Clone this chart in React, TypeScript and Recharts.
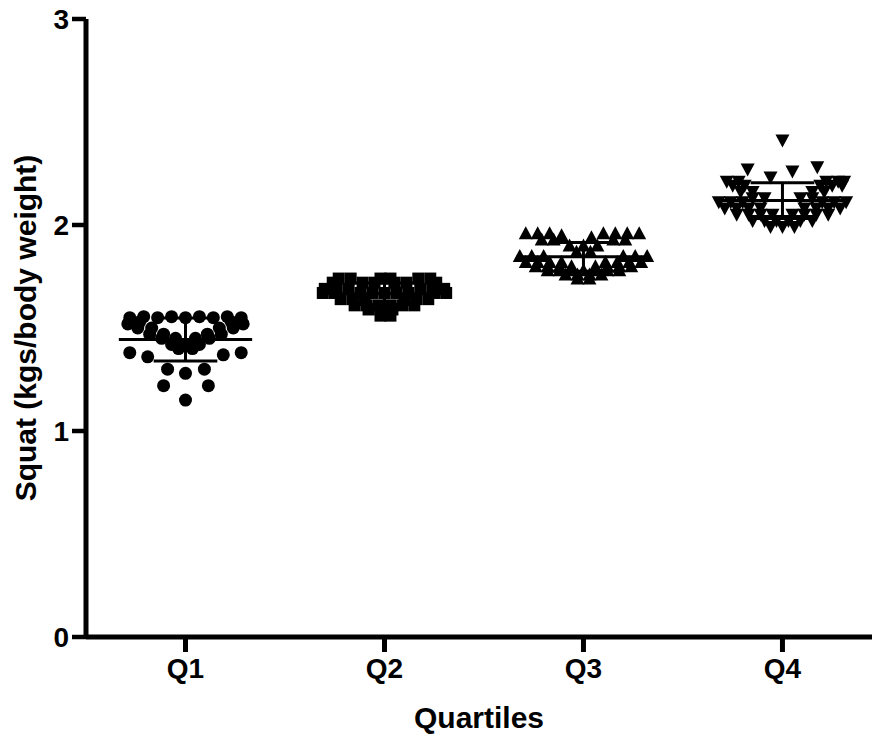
import { ScatterChart, Scatter, XAxis, YAxis, ReferenceLine, Label } from "recharts"

const quartiles = ["Q1", "Q2", "Q3", "Q4"]
const yTicks = [0, 1, 2, 3]

// each point: [horizontal offset inside its column, squat / body weight]
const q1: [number, number][] = [
  [-0.28, 1.55], [-0.21, 1.555], [-0.14, 1.55], [-0.07, 1.555], [0, 1.55], [0.07, 1.555], [0.14, 1.55], [0.21, 1.555], [0.28, 1.55],
  [-0.29, 1.52], [-0.23, 1.53], [0.23, 1.53], [0.29, 1.52],
  [-0.24, 1.50], [-0.17, 1.50], [0.17, 1.50], [0.24, 1.50],
  [-0.18, 1.47], [-0.11, 1.47], [0.11, 1.47], [0.18, 1.47],
  [-0.12, 1.45], [-0.05, 1.45], [0.05, 1.45], [0.12, 1.45],
  [-0.07, 1.42], [0, 1.42], [0.07, 1.42],
  [-0.035, 1.40], [0.035, 1.40],
  [-0.28, 1.38], [-0.19, 1.36], [0.19, 1.37], [0.28, 1.38],
  [-0.09, 1.30], [0, 1.28], [0.095, 1.30],
  [-0.11, 1.22], [0.115, 1.22],
  [0, 1.15],
]

const q2: [number, number][] = [
  [-0.23, 1.74], [-0.17, 1.74], [-0.02, 1.74], [0.03, 1.74], [0.17, 1.74], [0.23, 1.74],
  [-0.26, 1.72], [-0.11, 1.72], [-0.05, 1.72], [0.05, 1.72], [0.11, 1.72], [0.26, 1.72],
  [-0.3, 1.69], [-0.24, 1.69], [-0.18, 1.69], [0.18, 1.69], [0.24, 1.69], [0.3, 1.69],
  [-0.31, 1.67], [-0.25, 1.67], [-0.12, 1.67], [-0.06, 1.67], [0, 1.67], [0.06, 1.67], [0.12, 1.67], [0.25, 1.67], [0.31, 1.67],
  [-0.22, 1.64], [-0.16, 1.64], [-0.1, 1.64], [0.1, 1.64], [0.16, 1.64], [0.22, 1.64],
  [-0.15, 1.61], [-0.09, 1.61], [-0.03, 1.61], [0.03, 1.61], [0.09, 1.61], [0.15, 1.61],
  [-0.08, 1.59], [-0.02, 1.59], [0.04, 1.59],
  [-0.02, 1.56], [0.03, 1.56],
]

const q3: [number, number][] = [
  [-0.29, 1.96], [-0.23, 1.96], [-0.17, 1.96], [0.1, 1.96], [0.16, 1.96], [0.22, 1.96], [0.28, 1.96],
  [-0.11, 1.95], [0.04, 1.94],
  [-0.21, 1.93], [-0.15, 1.93], [0.15, 1.93], [0.21, 1.93],
  [-0.07, 1.9], [0, 1.9], [0.07, 1.9],
  [-0.035, 1.87], [0.035, 1.87],
  [-0.32, 1.85], [-0.26, 1.85], [-0.2, 1.85], [0.2, 1.85], [0.26, 1.85], [0.32, 1.85],
  [-0.29, 1.82], [-0.23, 1.82], [-0.17, 1.82], [-0.11, 1.82], [0.11, 1.82], [0.17, 1.82], [0.23, 1.82], [0.29, 1.82],
  [-0.24, 1.8], [-0.18, 1.8], [-0.12, 1.8], [-0.06, 1.8], [0.06, 1.8], [0.12, 1.8], [0.18, 1.8], [0.24, 1.8],
  [-0.18, 1.78], [-0.12, 1.78], [-0.06, 1.78], [0, 1.78], [0.06, 1.78], [0.12, 1.78], [0.18, 1.78],
  [-0.09, 1.76], [-0.03, 1.76], [0.03, 1.76], [0.09, 1.76],
  [-0.03, 1.74], [0.03, 1.74],
]

const q4: [number, number][] = [
  [0, 2.41],
  [0.175, 2.28], [-0.175, 2.27], [0.05, 2.26], [-0.06, 2.23],
  [-0.28, 2.21], [-0.22, 2.21], [0.22, 2.21], [0.28, 2.21], [0.31, 2.21],
  [-0.25, 2.19], [-0.19, 2.19], [0.19, 2.19], [0.25, 2.19], [0.3, 2.19],
  [-0.21, 2.16], [-0.15, 2.16], [0.15, 2.16], [0.21, 2.16],
  [-0.15, 2.13], [-0.09, 2.13], [0.09, 2.13], [0.15, 2.13],
  [-0.32, 2.11], [-0.26, 2.11], [-0.2, 2.11], [0.2, 2.11], [0.26, 2.11], [0.32, 2.11],
  [-0.29, 2.08], [-0.23, 2.08], [-0.17, 2.08], [-0.11, 2.08], [0.11, 2.08], [0.17, 2.08], [0.23, 2.08], [0.29, 2.08],
  [-0.23, 2.05], [-0.17, 2.05], [-0.11, 2.05], [-0.05, 2.05], [0.05, 2.05], [0.11, 2.05], [0.17, 2.05], [0.23, 2.05],
  [-0.15, 2.02], [-0.09, 2.02], [-0.03, 2.02], [0.03, 2.02], [0.09, 2.02], [0.15, 2.02],
  [-0.06, 1.99], [0, 1.99], [0.06, 1.99],
]

const groups = [q1, q2, q3, q4]

const FONT = "'Liberation Sans', Arial, Helvetica, sans-serif"
const MEAN_HALF = 0.335
const CAP_HALF = 0.16

function toRows(points: [number, number][], column: number) {
  return points.map(([off, v]) => ({ x: column + off, y: v }))
}

function meanSd(points: [number, number][]) {
  const vals = points.map((p) => p[1])
  const mean = vals.reduce((a, b) => a + b, 0) / vals.length
  const variance = vals.reduce((a, b) => a + (b - mean) ** 2, 0) / (vals.length - 1)
  return { mean, sd: Math.sqrt(variance) }
}

const Dot = (props: any) => <circle cx={props.cx} cy={props.cy} r={6.5} fill="#000" />
const Square = (props: any) => (
  <rect x={props.cx - 6} y={props.cy - 6} width={12} height={12} fill="#000" />
)
const TriUp = (props: any) => {
  const { cx, cy } = props
  return <polygon points={`${cx},${cy - 7} ${cx + 7},${cy + 6} ${cx - 7},${cy + 6}`} fill="#000" />
}
const TriDown = (props: any) => {
  const { cx, cy } = props
  return <polygon points={`${cx - 7},${cy - 6} ${cx + 7},${cy - 6} ${cx},${cy + 7}`} fill="#000" />
}
const shapes = [Dot, Square, TriUp, TriDown]

const YTitle = (props: any) => {
  const vb = props.viewBox || { y: 19, height: 618 }
  const cx = 25
  const cy = vb.y + vb.height / 2
  return (
    <text
      x={cx}
      y={cy}
      transform={`rotate(-90 ${cx} ${cy})`}
      textAnchor="middle"
      dominantBaseline="central"
      fontFamily={FONT}
      fontWeight={700}
      fontSize={30}
      fill="#000"
    >
      Squat (kgs/body weight)
    </text>
  )
}

export default function App() {
  const tickStyle = { fontFamily: FONT, fontWeight: 700, fontSize: 28, fill: "#000" }
  const axisStroke = { stroke: "#000", strokeWidth: 5 }

  return (
    <div style={{ position: "absolute", left: 0, top: 0, width: 872, height: 736, background: "#fff" }}>
      <ScatterChart width={872} height={736} margin={{ top: 19, right: 0, bottom: 0, left: 0 }}>
        <XAxis
          type="number"
          dataKey="x"
          domain={[0.5, 4.45]}
          ticks={[1, 2, 3, 4]}
          tickFormatter={(v: number) => quartiles[v - 1]}
          allowDataOverflow
          height={99}
          tickSize={15}
          tickMargin={6}
          tick={tickStyle}
          axisLine={axisStroke}
          tickLine={axisStroke}
        >
          <Label
            value="Quartiles"
            position="insideBottom"
            offset={8}
            style={{ fontFamily: FONT, fontWeight: 700, fontSize: 30, fill: "#000" }}
          />
        </XAxis>
        <YAxis
          type="number"
          dataKey="y"
          domain={[0, 3]}
          ticks={yTicks}
          width={86}
          tickSize={14}
          tickMargin={3}
          tick={tickStyle}
          axisLine={axisStroke}
          tickLine={{ stroke: "#000", strokeWidth: 4.5 }}
        >
          <Label content={<YTitle />} />
        </YAxis>
        {groups.map((pts, i) => (
          <Scatter
            key={quartiles[i]}
            name={quartiles[i]}
            data={toRows(pts, i + 1)}
            shape={shapes[i]}
            isAnimationActive={false}
          />
        ))}
        {groups.map((pts, i) => {
          const { mean, sd } = meanSd(pts)
          const c = i + 1
          return [
            <ReferenceLine
              key={`m${i}`}
              segment={[{ x: c - MEAN_HALF, y: mean }, { x: c + MEAN_HALF, y: mean }]}
              stroke="#000"
              strokeWidth={3}
              ifOverflow="visible"
            />,
            <ReferenceLine
              key={`v${i}`}
              segment={[{ x: c, y: mean - sd }, { x: c, y: mean + sd }]}
              stroke="#000"
              strokeWidth={3}
              ifOverflow="visible"
            />,
            <ReferenceLine
              key={`u${i}`}
              segment={[{ x: c - CAP_HALF, y: mean + sd }, { x: c + CAP_HALF, y: mean + sd }]}
              stroke="#000"
              strokeWidth={3}
              ifOverflow="visible"
            />,
            <ReferenceLine
              key={`l${i}`}
              segment={[{ x: c - CAP_HALF, y: mean - sd }, { x: c + CAP_HALF, y: mean - sd }]}
              stroke="#000"
              strokeWidth={3}
              ifOverflow="visible"
            />,
          ]
        })}
      </ScatterChart>
    </div>
  )
}
